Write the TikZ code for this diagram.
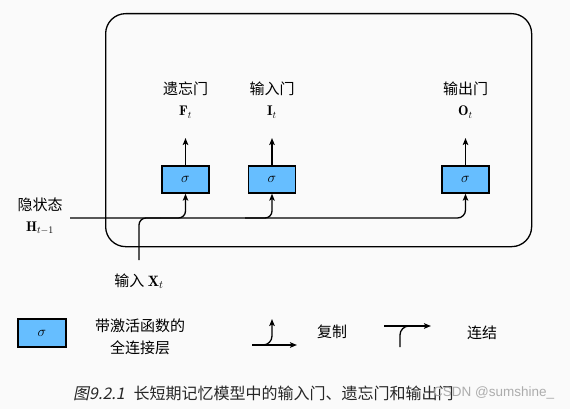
\documentclass[tikz,border=0pt]{standalone}
\usepackage{fontspec}
\usetikzlibrary{arrows.meta}
\newfontfamily\cjk{Noto Sans CJK SC}
\newfontfamily\cjkit[FakeSlant=0.2]{Noto Sans CJK SC}
\newfontfamily\wm{Liberation Sans}
\definecolor{boxblue}{RGB}{102,190,255}
\definecolor{bgc}{RGB}{250,250,250}
\begin{document}
\begin{tikzpicture}[x=1pt,y=-1pt,
  lw/.style={line width=1.3pt},
  sig/.style={draw, lw, fill=boxblue, minimum width=47pt, minimum height=27pt, inner sep=0pt, font=\fontsize{14}{16}\selectfont},
  lab/.style={font=\cjk\fontsize{15}{18}\selectfont, inner sep=0pt},
  mlab/.style={font=\fontsize{14}{16}\selectfont, inner sep=0pt, anchor=base},
  arr/.style={lw, -{Stealth[length=7pt,width=5.5pt,inset=1.5pt]}}
  ]
\fill[bgc] (0,0) rectangle (570,409);
\useasboundingbox (0,0) rectangle (570,409);
\node[draw, lw, rounded corners=20pt, minimum width=426pt, minimum height=233pt, anchor=north west, inner sep=0pt] (frame) at (105,13) {};
% gates
\node[sig] (s1) at (185.5,179.5) {$\sigma$};
\node[sig] (s2) at (272,179.5) {$\sigma$};
\node[sig] (s3) at (465.5,179.5) {$\sigma$};
\node[lab] (g1) at (185.5,89) {遗忘门};
\node[mlab] (m1) at (185.5,116) {$\mathbf{F}_t$};
\node[lab] (g2) at (272,89) {输入门};
\node[mlab] (m2) at (272,116) {$\mathbf{I}_t$};
\node[lab] (g3) at (465.5,89) {输出门};
\node[mlab] (m3) at (465.5,116) {$\mathbf{O}_t$};
\coordinate (t1) at (185.5,138);
\coordinate (t2) at (272,138);
\coordinate (t3) at (465.5,138);
\draw[arr] (s1.north) -- (t1);
\draw[arr] (s2.north) -- (t2);
\draw[arr] (s3.north) -- (t3);
% hidden state
\node[lab] (hl) at (40,205) {隐状态};
\node[mlab] (hm) at (40,231) {$\mathbf{H}_{t-1}$};
\coordinate (h0) at (70,218);
\coordinate (b1) at (160,218);
\coordinate (b2) at (245,218);
\draw[arr, rounded corners=8pt] (h0) -| (s3.south);
\draw[arr, rounded corners=7pt] (b1) -| (s1.south);
\draw[arr, rounded corners=7pt] (b2) -| (s2.south);
% input
\coordinate (x0) at (139,260);
\coordinate (x1) at (160,218);
\draw[lw, rounded corners=7pt] (x0) |- (x1);
\node[lab, anchor=base] (xl) at (139,286) {输入 $\mathbf{X}_t$};
% legend
\node[sig, minimum width=48pt, minimum height=28pt] (ls) at (42,333) {$\sigma$};
\node[lab, align=center, font=\cjk\fontsize{15}{22}\selectfont] (lt) at (140,337) {带激活函数的\\全连接层};
\coordinate (c0) at (252,345);
\coordinate (c1) at (297,345);
\coordinate (c2) at (258,345);
\coordinate (c3) at (272,319);
\draw[arr] (c0) -- (c1);
\draw[arr, rounded corners=9pt] (c2) -| (c3);
\node[lab] (cl) at (332,332) {复制};
\coordinate (k0) at (384,326);
\coordinate (k1) at (431,326);
\coordinate (k2) at (400,347);
\coordinate (k3) at (415,326);
\draw[arr] (k0) -- (k1);
\draw[lw, rounded corners=9pt] (k2) |- (k3);
\node[lab] (kl) at (482,333) {连结};
% caption
\node[font=\fontsize{16}{18}\selectfont, anchor=west, inner sep=0pt, text=black!85] (cap) at (73,393) {{\cjkit 图9.2.1}\hspace{0.55em}{\cjk 长短期记忆模型中的输入门、遗忘门和输出门}};
\node[font=\wm\fontsize{13.5}{16}\selectfont, text=gray!75, anchor=west, inner sep=0pt, opacity=0.85] (wmk) at (433,393) {CSDN @sumshine\_};
\end{tikzpicture}
\end{document}
